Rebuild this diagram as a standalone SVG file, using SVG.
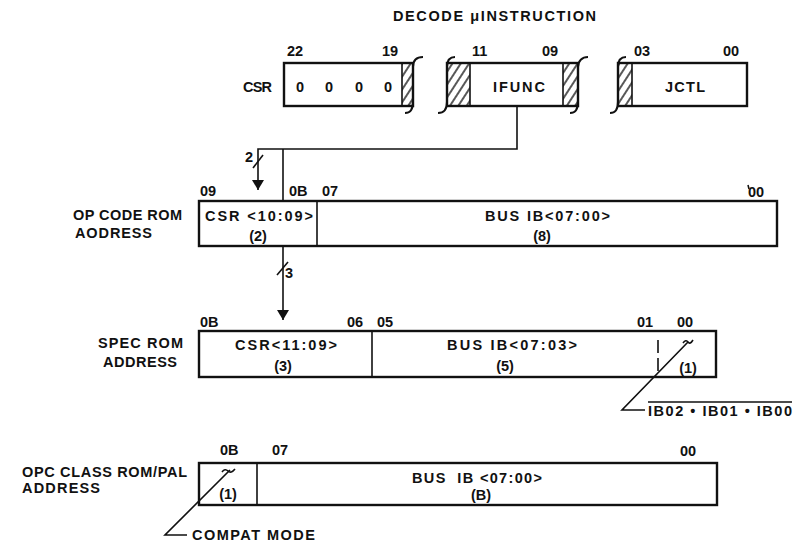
<svg xmlns="http://www.w3.org/2000/svg" width="793" height="545" viewBox="0 0 793 545">
<style>
text{font-family:"Liberation Sans",Arial,sans-serif;font-weight:bold;font-size:14.5px;fill:#111}
.box{fill:#fff;stroke:#111;stroke-width:2.4}
.div{stroke:#111;stroke-width:1.6;fill:none}
.ln{stroke:#111;stroke-width:1.6;fill:none}
.brk{stroke:#111;stroke-width:2;fill:none}
.hat{fill:url(#hatch);stroke:#111;stroke-width:1.6}
.m{text-anchor:middle}
</style>
<defs>
<pattern id="hatch" width="7" height="7" patternUnits="userSpaceOnUse" patternTransform="rotate(33)">
<line x1="1" y1="0" x2="1" y2="7" stroke="#111" stroke-width="1.4"/>
</pattern>
<marker id="arr" viewBox="0 0 10 12" refX="10" refY="6" markerWidth="10" markerHeight="12" markerUnits="userSpaceOnUse" orient="auto">
<path d="M0,0 L10,6 L0,12 Z" fill="#111"/>
</marker>
</defs>
<rect width="793" height="545" fill="#fff"/>

<text id="title" x="393" y="21" textLength="203">DECODE μINSTRUCTION</text>

<g id="csr">
<text x="243" y="92" textLength="29">CSR</text>
<text x="287" y="56">22</text>
<text x="382" y="56">19</text>
<rect class="box" x="284" y="63" width="129" height="43"/>
<rect class="hat" x="402" y="63" width="11" height="43"/>
<path class="brk" d="M423,57 C416,57 413,61 413,67 L413,102 C413,109 411,113 405,113"/>
<text class="m" x="300" y="92">0</text>
<text class="m" x="329" y="92">0</text>
<text class="m" x="359" y="92">0</text>
<text class="m" x="388" y="92">0</text>
</g>

<g id="ifunc">
<text x="472" y="56">11</text>
<text x="542" y="56">09</text>
<rect class="box" x="447" y="63" width="131" height="43"/>
<rect class="hat" x="447" y="63" width="23" height="43"/>
<rect class="hat" x="563" y="63" width="15" height="43"/>
<path class="brk" d="M455,57 C449,57 447,61 447,67 L447,102 C447,109 444,113 438,113"/>
<path class="brk" d="M588,57 C582,57 578,61 578,67 L578,102 C578,109 576,113 570,113"/>
<text class="m" x="519" y="92" textLength="52">IFUNC</text>
</g>

<g id="jctl">
<text x="634" y="56">03</text>
<text x="723" y="56">00</text>
<rect class="box" x="618" y="63" width="129" height="43"/>
<rect class="hat" x="618" y="63" width="14" height="43"/>
<path class="brk" d="M626,57 C620,57 618,61 618,67 L618,102 C618,109 616,113 610,113"/>
<text class="m" x="685" y="92" textLength="40">JCTL</text>
</g>

<g id="opcode">
<text x="73" y="220" textLength="109">OP CODE ROM</text>
<text x="75" y="238" textLength="77">AODRESS</text>
<text x="200" y="196">09</text>
<text x="289" y="196">0B</text>
<text x="322" y="196">07</text>
<text x="748" y="197">00</text>
<line class="ln" x1="748" y1="185" x2="749" y2="189"/>
<rect class="box" x="199" y="201" width="578" height="45"/>
<line class="div" x1="317" y1="201" x2="317" y2="246"/>
<text x="205" y="221" textLength="108">CSR &lt;10:09&gt;</text>
<text class="m" x="258" y="241">(2)</text>
<text x="485" y="221" textLength="125">BUS IB&lt;07:00&gt;</text>
<text class="m" x="542" y="241">(8)</text>
</g>

<g id="specrom">
<text x="98" y="348" textLength="85">SPEC ROM</text>
<text x="103" y="367" textLength="74">ADDRESS</text>
<text x="200" y="327">0B</text>
<text x="347" y="327">06</text>
<text x="377" y="327">05</text>
<text x="637" y="327">01</text>
<text x="677" y="327">00</text>
<rect class="box" x="199" y="331" width="517" height="46"/>
<line class="div" x1="372" y1="331" x2="372" y2="377"/>
<line class="div" x1="658" y1="340" x2="658" y2="374" stroke-dasharray="13 5"/>
<text x="235" y="350" textLength="102">CSR&lt;11:09&gt;</text>
<text class="m" x="283" y="371">(3)</text>
<text x="447" y="350" textLength="130">BUS IB&lt;07:03&gt;</text>
<text class="m" x="505" y="371">(5)</text>
<text class="m" x="688" y="373">(1)</text>
<path class="ln" d="M683,343 Q686,339 688,342 Q690,345 693,340"/>
</g>

<g id="ibnote">
<line class="ln" x1="648" y1="402" x2="792" y2="402"/>
<text x="648" y="416" textLength="144">IB02 • IB01 • IB00</text>
</g>

<g id="opcclass">
<text x="22" y="477" textLength="165">OPC CLASS ROM/PAL</text>
<text x="22" y="493" textLength="78">ADDRESS</text>
<text x="220" y="455">0B</text>
<text x="272" y="455">07</text>
<text x="680" y="456">00</text>
<rect class="box" x="199" y="463" width="518" height="42"/>
<line class="div" x1="257" y1="463" x2="257" y2="505"/>
<text x="412" y="483" textLength="130" xml:space="preserve">BUS  IB &lt;07:00&gt;</text>
<text class="m" x="481" y="500">(B)</text>
<text class="m" x="228" y="499">(1)</text>
<path class="ln" d="M222,472 Q225,468 228,471 Q231,474 235,469"/>
</g>

<g id="compat">
<text x="192" y="540" textLength="123">COMPAT MODE</text>
</g>

<g id="connectors">
<path class="ln" d="M517,106 L517,149 L258,149 L258,190" marker-end="url(#arr)"/>
<line class="ln" x1="283" y1="149" x2="283" y2="201"/>
<line class="ln" x1="253" y1="168" x2="263" y2="155"/>
<text x="245" y="162">2</text>
<path class="ln" d="M283,246 L283,320" marker-end="url(#arr)"/>
<line class="ln" x1="277" y1="275" x2="288" y2="262"/>
<text x="285" y="278">3</text>
<polyline class="ln" points="688,342 622,410 645,410"/>
<polyline class="ln" points="230,470 165,535 187,535"/>
</g>
</svg>
